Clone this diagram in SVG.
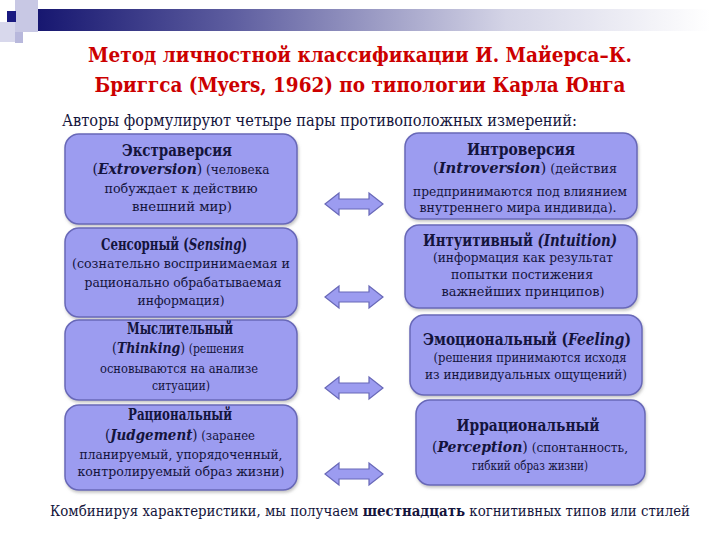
<svg xmlns="http://www.w3.org/2000/svg" width="720" height="540" viewBox="0 0 720 540" font-family="'DejaVu Serif Condensed', 'DejaVu Serif', serif">
<defs>
<linearGradient id="bar" x1="0" y1="0" x2="1" y2="0">
<stop offset="0" stop-color="#14146e"/>
<stop offset="0.3" stop-color="#5e5ea0"/>
<stop offset="0.7" stop-color="#d4d4e6"/>
<stop offset="1" stop-color="#ffffff"/>
</linearGradient>
<filter id="sh" x="-10%" y="-10%" width="120%" height="130%">
<feDropShadow dx="1" dy="2" stdDeviation="1.5" flood-color="#888" flood-opacity="0.5"/>
</filter>
</defs>
<style>
.box{fill:#9c9cf0;stroke:#6868b8;stroke-width:1.5;filter:url(#sh)}
.arr{fill:#9c9cf0;stroke:#6868b8;stroke-width:1.2}
text{fill:#14143c}
.h{font-size:16px;font-weight:bold;text-anchor:middle}
.b{font-size:13px;text-anchor:middle}
.bi{font-weight:bold;font-style:italic;font-size:15px}
.p{font-size:15px}
.t{font-size:21px;font-weight:bold;fill:#cc0000;text-anchor:middle}
</style>
<rect width="720" height="540" fill="#ffffff"/>
<g id="header">
<rect x="30" y="9" width="680" height="22" fill="url(#bar)"/>
<rect x="15" y="0" width="23" height="32" fill="#c8c8e4"/>
<rect x="0" y="22" width="15" height="20" fill="#d8d8ec"/>
<rect x="15" y="32" width="8" height="11" fill="#b8b8dc"/>
<rect x="7" y="11" width="9" height="11" fill="#1a1a80"/>
</g>
<g id="title">
<text class="t" x="360" y="62" textLength="544" lengthAdjust="spacingAndGlyphs">Метод личностной классификации И. Майерса–К.</text>
<text class="t" x="360" y="92" textLength="531" lengthAdjust="spacingAndGlyphs">Бриггса (Myers, 1962) по типологии Карла Юнга</text>
</g>
<text id="subtitle" x="62" y="126" font-size="16" textLength="515" lengthAdjust="spacingAndGlyphs">Авторы формулируют четыре пары противоположных измерений:</text>
<g id="extroversion">
<rect class="box" x="65" y="134" width="232" height="90" rx="14"/>
<text class="h" x="177" y="156" textLength="110" lengthAdjust="spacingAndGlyphs">Экстраверсия</text>
<text class="b" x="181" y="174" textLength="177" lengthAdjust="spacingAndGlyphs"><tspan class="p">(</tspan><tspan class="bi">Extroversion</tspan><tspan class="p">)</tspan> (человека</text>
<text class="b" x="181" y="193" textLength="153" lengthAdjust="spacingAndGlyphs">побуждает к действию</text>
<text class="b" x="182" y="211" textLength="100" lengthAdjust="spacingAndGlyphs">внешний мир)</text>
</g>
<g id="introversion">
<rect class="box" x="405" y="133" width="232" height="86" rx="14"/>
<text class="h" x="521" y="155" textLength="108" lengthAdjust="spacingAndGlyphs">Интроверсия</text>
<text class="b" x="525" y="173" textLength="184" lengthAdjust="spacingAndGlyphs"><tspan class="p">(</tspan><tspan class="bi">Introversion</tspan><tspan class="p">)</tspan> (действия</text>
<text class="b" x="520" y="196" textLength="214" lengthAdjust="spacingAndGlyphs">предпринимаются под влиянием</text>
<text class="b" x="518" y="212" textLength="197" lengthAdjust="spacingAndGlyphs">внутреннего мира индивида).</text>
</g>
<g id="sensing">
<rect class="box" x="65" y="228" width="232" height="89" rx="14"/>
<text class="h" x="174" y="250" textLength="146" lengthAdjust="spacingAndGlyphs">Сенсорный (<tspan font-style="italic">Sensing</tspan>)</text>
<text class="b" x="181" y="268" textLength="218" lengthAdjust="spacingAndGlyphs">(сознательно воспринимаемая и</text>
<text class="b" x="183" y="287" textLength="197" lengthAdjust="spacingAndGlyphs">рационально обрабатываемая</text>
<text class="b" x="181" y="305" textLength="87" lengthAdjust="spacingAndGlyphs">информация)</text>
</g>
<g id="intuition">
<rect class="box" x="405" y="225" width="232" height="83" rx="14"/>
<text class="h" x="520" y="246" textLength="194" lengthAdjust="spacingAndGlyphs">Интуитивный <tspan font-style="italic">(Intuition)</tspan></text>
<text class="b" x="523" y="262" textLength="180" lengthAdjust="spacingAndGlyphs">(информация как результат</text>
<text class="b" x="522" y="279" textLength="142" lengthAdjust="spacingAndGlyphs">попытки постижения</text>
<text class="b" x="523" y="296" textLength="163" lengthAdjust="spacingAndGlyphs">важнейших принципов)</text>
</g>
<g id="thinking">
<rect class="box" x="65" y="320" width="232" height="80" rx="14"/>
<text class="h" x="180" y="334" textLength="106" lengthAdjust="spacingAndGlyphs">Мыслительный</text>
<text class="b" x="178" y="353" textLength="132" lengthAdjust="spacingAndGlyphs"><tspan class="p">(</tspan><tspan class="bi">Thinking</tspan><tspan class="p">)</tspan> (решения</text>
<text class="b" x="179" y="373" textLength="158" lengthAdjust="spacingAndGlyphs">основываются на анализе</text>
<text class="b" x="181" y="390" textLength="58" lengthAdjust="spacingAndGlyphs">ситуации)</text>
</g>
<g id="feeling">
<rect class="box" x="410" y="315" width="232" height="80" rx="14"/>
<text class="h" x="527" y="345" textLength="208" lengthAdjust="spacingAndGlyphs">Эмоциональный (<tspan font-style="italic">Feeling</tspan>)</text>
<text class="b" x="530" y="362" textLength="193" lengthAdjust="spacingAndGlyphs">(решения принимаются исходя</text>
<text class="b" x="526" y="379" textLength="202" lengthAdjust="spacingAndGlyphs">из индивидуальных ощущений)</text>
</g>
<g id="judgement">
<rect class="box" x="65" y="405" width="232" height="85" rx="14"/>
<text class="h" x="180" y="420" textLength="104" lengthAdjust="spacingAndGlyphs">Рациональный</text>
<text class="b" x="180" y="440" textLength="150" lengthAdjust="spacingAndGlyphs"><tspan class="p">(</tspan><tspan class="bi">Judgement</tspan><tspan class="p">)</tspan> (заранее</text>
<text class="b" x="181" y="459" textLength="203" lengthAdjust="spacingAndGlyphs">планируемый, упорядоченный,</text>
<text class="b" x="181" y="476" textLength="207" lengthAdjust="spacingAndGlyphs">контролируемый образ жизни)</text>
</g>
<g id="perception">
<rect class="box" x="416" y="400" width="229" height="85" rx="14"/>
<text class="h" x="528" y="431" textLength="143" lengthAdjust="spacingAndGlyphs">Иррациональный</text>
<text class="b" x="530" y="452" textLength="196" lengthAdjust="spacingAndGlyphs"><tspan class="p">(</tspan><tspan class="bi">Perception</tspan><tspan class="p">)</tspan> (спонтанность,</text>
<text class="b" x="530" y="470" textLength="116" lengthAdjust="spacingAndGlyphs">гибкий образ жизни)</text>
</g>
<g id="connectors">
<path class="arr" d="M325,204 l14,-11 v6 h30 v-6 l14,11 l-14,11 v-6 h-30 v6 z"/>
<path class="arr" d="M325,297 l14,-11 v6 h30 v-6 l14,11 l-14,11 v-6 h-30 v6 z"/>
<path class="arr" d="M325,388 l14,-11 v6 h30 v-6 l14,11 l-14,11 v-6 h-30 v6 z"/>
<path class="arr" d="M325,474 l14,-11 v6 h30 v-6 l14,11 l-14,11 v-6 h-30 v6 z"/>
</g>
<text id="footer" x="50" y="516" font-size="14" textLength="640" lengthAdjust="spacingAndGlyphs">Комбинируя характеристики, мы получаем <tspan font-weight="bold">шестнадцать</tspan> когнитивных типов или стилей</text>
</svg>
